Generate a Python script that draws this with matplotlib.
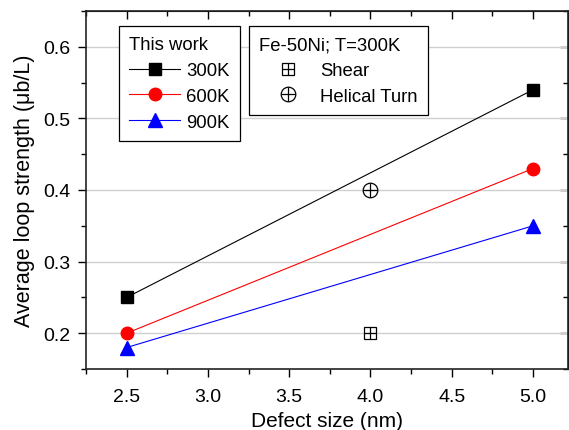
import matplotlib
matplotlib.use("Agg")
import matplotlib.pyplot as plt
from matplotlib.ticker import MultipleLocator
from matplotlib.legend_handler import HandlerTuple

plt.rcParams['font.family'] = ['Liberation Sans', 'DejaVu Sans']

sizes = [2.5, 5.0]
s300 = [0.25, 0.54]
s600 = [0.20, 0.43]
s900 = [0.18, 0.35]
ref_x = [4.0]
shear_y = [0.20]
helical_y = [0.40]

fig = plt.figure(figsize=(5.69, 4.31), dpi=100)
ax = fig.add_axes([86/569, 1-370/431, (568-86)/569, (370-12)/431])

ax.grid(axis='y', color='#d0d0d0', lw=1.0, zorder=0)
ax.set_axisbelow(True)

l1, = ax.plot(sizes, s300, color='black', lw=0.8, marker='s', ms=8, label='300K', zorder=3)
l2, = ax.plot(sizes, s600, color='red', lw=0.8, marker='o', ms=9, label='600K', zorder=3)
l3, = ax.plot(sizes, s900, color='blue', lw=0.8, marker='^', ms=9.5, label='900K', zorder=3)
m1a, = ax.plot(ref_x, shear_y, ls='none', marker='s', ms=8.5, mfc='none', mec='black', mew=0.9, zorder=3)
m1b, = ax.plot(ref_x, shear_y, ls='none', marker='+', ms=8.5, color='black', mew=0.9, zorder=3)
m2a, = ax.plot(ref_x, helical_y, ls='none', marker='o', ms=10.5, mfc='none', mec='black', mew=0.9, zorder=3)
m2b, = ax.plot(ref_x, helical_y, ls='none', marker='+', ms=10.5, color='black', mew=0.9, zorder=3)

ax.set_xlim(2.25, 5.215)
ax.set_ylim(0.15, 0.65)
ax.xaxis.set_major_locator(MultipleLocator(0.5))
ax.xaxis.set_minor_locator(MultipleLocator(0.25))
ax.set_yticks([0.2, 0.3, 0.4, 0.5, 0.6])
ax.yaxis.set_minor_locator(MultipleLocator(0.05))

ax.tick_params(which='major', direction='out', length=6, width=1, labelsize=14, pad=5,
               bottom=True, left=True, top=False, right=False)
ax.tick_params(axis='x', which='major', pad=8)
ax.tick_params(which='minor', direction='out', length=3.5, width=1,
               bottom=True, left=True, top=False, right=False)
sec_x = ax.secondary_xaxis('top')
sec_x.xaxis.set_major_locator(MultipleLocator(0.5))
sec_x.xaxis.set_minor_locator(MultipleLocator(0.25))
sec_x.tick_params(which='major', direction='in', length=6, width=1, labeltop=False)
sec_x.tick_params(which='minor', direction='in', length=3.5, width=1)
sec_y = ax.secondary_yaxis('right')
sec_y.set_yticks([0.2, 0.3, 0.4, 0.5, 0.6])
sec_y.yaxis.set_minor_locator(MultipleLocator(0.05))
sec_y.tick_params(which='major', direction='in', length=6, width=1, labelright=False)
sec_y.tick_params(which='minor', direction='in', length=3.5, width=1)
for sp in ax.spines.values():
    sp.set_linewidth(1.2)
    sp.set_color('#222222')

ax.set_xlabel('Defect size (nm)', fontsize=15, labelpad=4)
ax.set_ylabel('Average loop strength (μb/L)', fontsize=15.5, labelpad=6)

common = dict(loc='upper left', bbox_transform=fig.transFigure, borderaxespad=0,
              fontsize=13.3, title_fontsize=13.3, frameon=True, fancybox=False,
              edgecolor='black', framealpha=1, labelspacing=0.48, borderpad=0.55,
              alignment='left')

leg1 = ax.legend(handles=[l1, l2, l3], labels=['300K', '600K', '900K'], title='This work',
                 bbox_to_anchor=(119/569, 1-27/431), handlelength=2.75,
                 handletextpad=0.35, **common)
leg1.get_frame().set_linewidth(0.9)
ax.add_artist(leg1)

leg2 = ax.legend(handles=[(m1a, m1b), (m2a, m2b)], labels=['Shear', 'Helical Turn'],
                 title='Fe-50Ni; T=300K', handler_map={tuple: HandlerTuple(ndivide=1)},
                 bbox_to_anchor=(249/569, 1-27/431), handlelength=3.1,
                 handletextpad=0.2, **common)
leg2.get_frame().set_linewidth(0.9)

fig.savefig('out.png', dpi=100)
